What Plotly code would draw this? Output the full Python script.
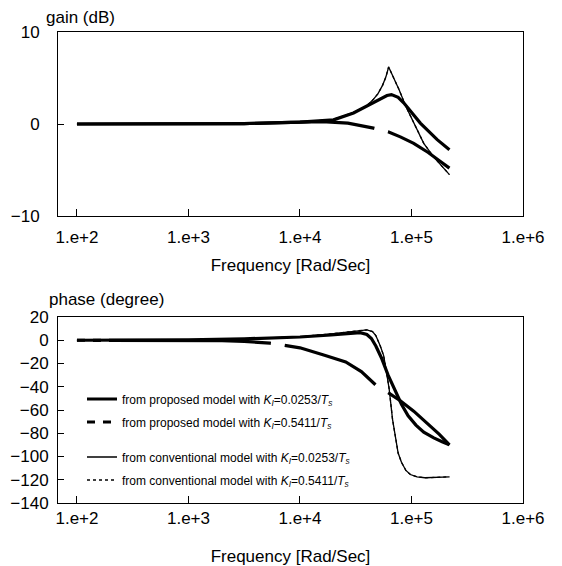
import plotly.graph_objects as go
from plotly.subplots import make_subplots

# ---------------- data ----------------
# Gain (dB)
w_gain_prop1 = [1e2, 1e3, 3.16e3, 1e4, 2e4, 3.02e4, 4.57e4, 6.03e4, 6.61e4, 7.59e4, 8.51e4, 1.2e5, 1.7e5, 2.19e5]
gain_prop1 = [0, 0, 0.05, 0.2, 0.45, 1.2, 2.3, 3.1, 3.2, 2.9, 2.3, 0.1, -1.7, -2.8]

w_gain_prop2 = [1e2, 1e3, 3.16e3, 6.76e3, 1e4, 1.585e4, 2.69e4, 3.55e4, 4.57e4, 6.17e4, 7.94e4, 1.047e5, 1.413e5, 1.778e5, 2.19e5]
gain_prop2 = [0, 0, 0.05, 0.15, 0.2, 0.25, 0.1, -0.15, -0.45, -0.85, -1.4, -2.1, -3.1, -4.0, -4.8]

w_gain_conv1 = [1e2, 1e3, 3.16e3, 1e4, 1.55e4, 2e4, 3.09e4, 3.98e4, 4.57e4, 5.01e4, 5.5e4, 5.89e4, 6.24e4, 6.76e4, 7.76e4, 8.91e4, 1.047e5, 1.288e5, 1.585e5, 2.19e5]
gain_conv1 = [0, 0, 0.05, 0.2, 0.35, 0.5, 1.3, 2.0, 2.7, 3.3, 4.2, 5.1, 6.2, 5.3, 3.7, 1.9, 0.1, -2.1, -3.6, -5.5]

# conventional model with Ki=0.5411/Ts is not distinguishable: it lies under the thin curve
w_gain_conv2 = w_gain_conv1
gain_conv2 = gain_conv1

# Phase (degree)
w_phase_prop1 = [1e2, 1e3, 3.16e3, 1e4, 1.905e4, 2.82e4, 3.47e4, 3.98e4, 4.37e4, 4.79e4, 5.37e4, 6.17e4, 7.08e4, 8.13e4, 9.33e4, 1.096e5, 1.288e5, 1.585e5, 1.905e5, 2.19e5]
phase_prop1 = [0, 0.3, 1.2, 2.8, 4.5, 6.0, 6.5, 5.0, 1.5, -5, -15, -30, -42, -55, -65, -73, -79, -84, -87.5, -90]

w_phase_prop2 = [1e2, 1e3, 2e3, 3.16e3, 5.37e3, 7.24e3, 1e4, 1.66e4, 2.57e4, 3.55e4, 4.79e4, 6.31e4, 7.94e4, 1.047e5, 1.413e5, 1.778e5, 2.19e5]
phase_prop2 = [0, 0, -0.3, -1.0, -2.5, -4.3, -6.5, -12.9, -18.6, -27, -38.6, -45.7, -52, -61, -72, -81, -90]

w_phase_conv1 = [1e2, 1e3, 3.16e3, 1e4, 1.905e4, 2.82e4, 3.47e4, 3.98e4, 4.47e4, 4.79e4, 5.25e4, 5.62e4, 5.89e4, 6.31e4, 6.76e4, 7.24e4, 7.59e4, 8.13e4, 8.91e4, 9.77e4, 1.122e5, 1.318e5, 1.778e5, 2.19e5]
phase_conv1 = [0, 0.3, 1.2, 3.0, 5.5, 7.5, 8.8, 9.0, 7.5, 4.0, -5, -13, -24, -42, -68, -87, -97, -105, -112, -115.5, -117.5, -118.3, -118, -117.5]

w_phase_conv2 = w_phase_conv1
phase_conv2 = phase_conv1

x_tickvals = [1e2, 1e3, 1e4, 1e5, 1e6]
x_ticktext = ["1.e+2", "1.e+3", "1.e+4", "1.e+5", "1.e+6"]
gain_ticks = [-10, 0, 10]
phase_ticks = [-140, -120, -100, -80, -60, -40, -20, 0, 20]

names = [
    "from proposed model with <i>K<sub>I</sub></i>=0.0253/<i>T<sub>s</sub></i>",
    "from proposed model with <i>K<sub>I</sub></i>=0.5411/<i>T<sub>s</sub></i>",
    "from conventional model with <i>K<sub>I</sub></i>=0.0253/<i>T<sub>s</sub></i>",
    "from conventional model with <i>K<sub>I</sub></i>=0.5411/<i>T<sub>s</sub></i>",
]

# ---------------- figure ----------------
FONT = "Liberation Sans, Arial, Helvetica, sans-serif"
fig = make_subplots(rows=2, cols=1)

thick, thin = 3.2, 1.3

fig.add_trace(go.Scatter(x=w_gain_conv2, y=gain_conv2, mode="lines", showlegend=False,
                         line=dict(color="black", width=thin, dash="dot")), row=1, col=1)
fig.add_trace(go.Scatter(x=w_gain_conv1, y=gain_conv1, mode="lines", showlegend=False,
                         line=dict(color="black", width=thin)), row=1, col=1)
fig.add_trace(go.Scatter(x=w_gain_prop2, y=gain_prop2, mode="lines", showlegend=False,
                         line=dict(color="black", width=thick, dash="298px,14px,400px")), row=1, col=1)
fig.add_trace(go.Scatter(x=w_gain_prop1, y=gain_prop1, mode="lines", showlegend=False,
                         line=dict(color="black", width=thick)), row=1, col=1)

fig.add_trace(go.Scatter(x=w_phase_conv2, y=phase_conv2, mode="lines", name=names[3], legend="legend4",
                         line=dict(color="black", width=thin, dash="dot")), row=2, col=1)
fig.add_trace(go.Scatter(x=w_phase_conv1, y=phase_conv1, mode="lines", name=names[2], legend="legend3",
                         line=dict(color="black", width=thin)), row=2, col=1)
fig.add_trace(go.Scatter(x=w_phase_prop2, y=phase_prop2, mode="lines", name=names[1], legend="legend2",
                         line=dict(color="black", width=thick,
                                   dash="8px,8px,8px,8px,162px,14px,101px,15px,400px")), row=2, col=1)
fig.add_trace(go.Scatter(x=w_phase_prop1, y=phase_prop1, mode="lines", name=names[0], legend="legend",
                         line=dict(color="black", width=thick)), row=2, col=1)

# page body has an 8 px margin: figure origin sits at window (8, 8)
OFF = 8
L, R, T, B = 58 - OFF, 39, 32 - OFF, 63
W, H = 562 - OFF, 566 - OFF
ph = H - T - B
pw = W - L - R


def py(pix):
    return (H - B - (pix - OFF)) / ph


def px(pix):
    return ((pix - OFF) - L) / pw


FS = 17
axis_common = dict(showline=True, linecolor="black", linewidth=1, mirror=True,
                   ticks="inside", tickcolor="black", showgrid=False, zeroline=False,
                   automargin=False,
                   tickfont=dict(family=FONT, size=FS, color="black"))

xr = [1.83, 6]
fig.update_xaxes(type="log", range=xr, tickvals=x_tickvals, ticktext=x_ticktext, ticklen=7,
                 title=dict(text="Frequency [Rad/Sec]", font=dict(family=FONT, size=FS, color="black")),
                 **axis_common)
fig.update_xaxes(ticklabelstandoff=6, title_standoff=12, row=1, col=1)
fig.update_xaxes(title_standoff=24, row=2, col=1)

fig.update_yaxes(range=[-10, 10], tickvals=gain_ticks, ticklen=6, ticklabelstandoff=14,
                 domain=[py(216), 1.0], row=1, col=1, **axis_common)
fig.update_yaxes(range=[-140, 20], tickvals=phase_ticks, ticklen=6, ticklabelstandoff=5,
                 domain=[0.0, py(317)], row=2, col=1, **axis_common)

leg_font = dict(family=FONT, size=12, color="black")
leg_base = dict(x=px(82), xanchor="left", yanchor="middle", bgcolor="rgba(0,0,0,0)",
                borderwidth=0, font=leg_font, itemwidth=30)
fig.update_layout(
    legend=dict(y=py(399), **leg_base),
    legend2=dict(y=py(422), **leg_base),
    legend3=dict(y=py(457), **leg_base),
    legend4=dict(y=py(480), **leg_base),
)

fig.add_annotation(text="gain (dB)", x=px(44), y=py(17), xref="paper", yref="paper",
                   xanchor="left", yanchor="middle", showarrow=False,
                   font=dict(family=FONT, size=FS, color="black"))
fig.add_annotation(text="phase (degree)", x=px(47), y=py(299), xref="paper", yref="paper",
                   xanchor="left", yanchor="middle", showarrow=False,
                   font=dict(family=FONT, size=FS, color="black"))

fig.update_layout(width=W, height=H, margin=dict(l=L, r=R, t=T, b=B, autoexpand=False),
                  paper_bgcolor="white", plot_bgcolor="white",
                  font=dict(family=FONT, color="black"))

fig.write_html("out.html")
